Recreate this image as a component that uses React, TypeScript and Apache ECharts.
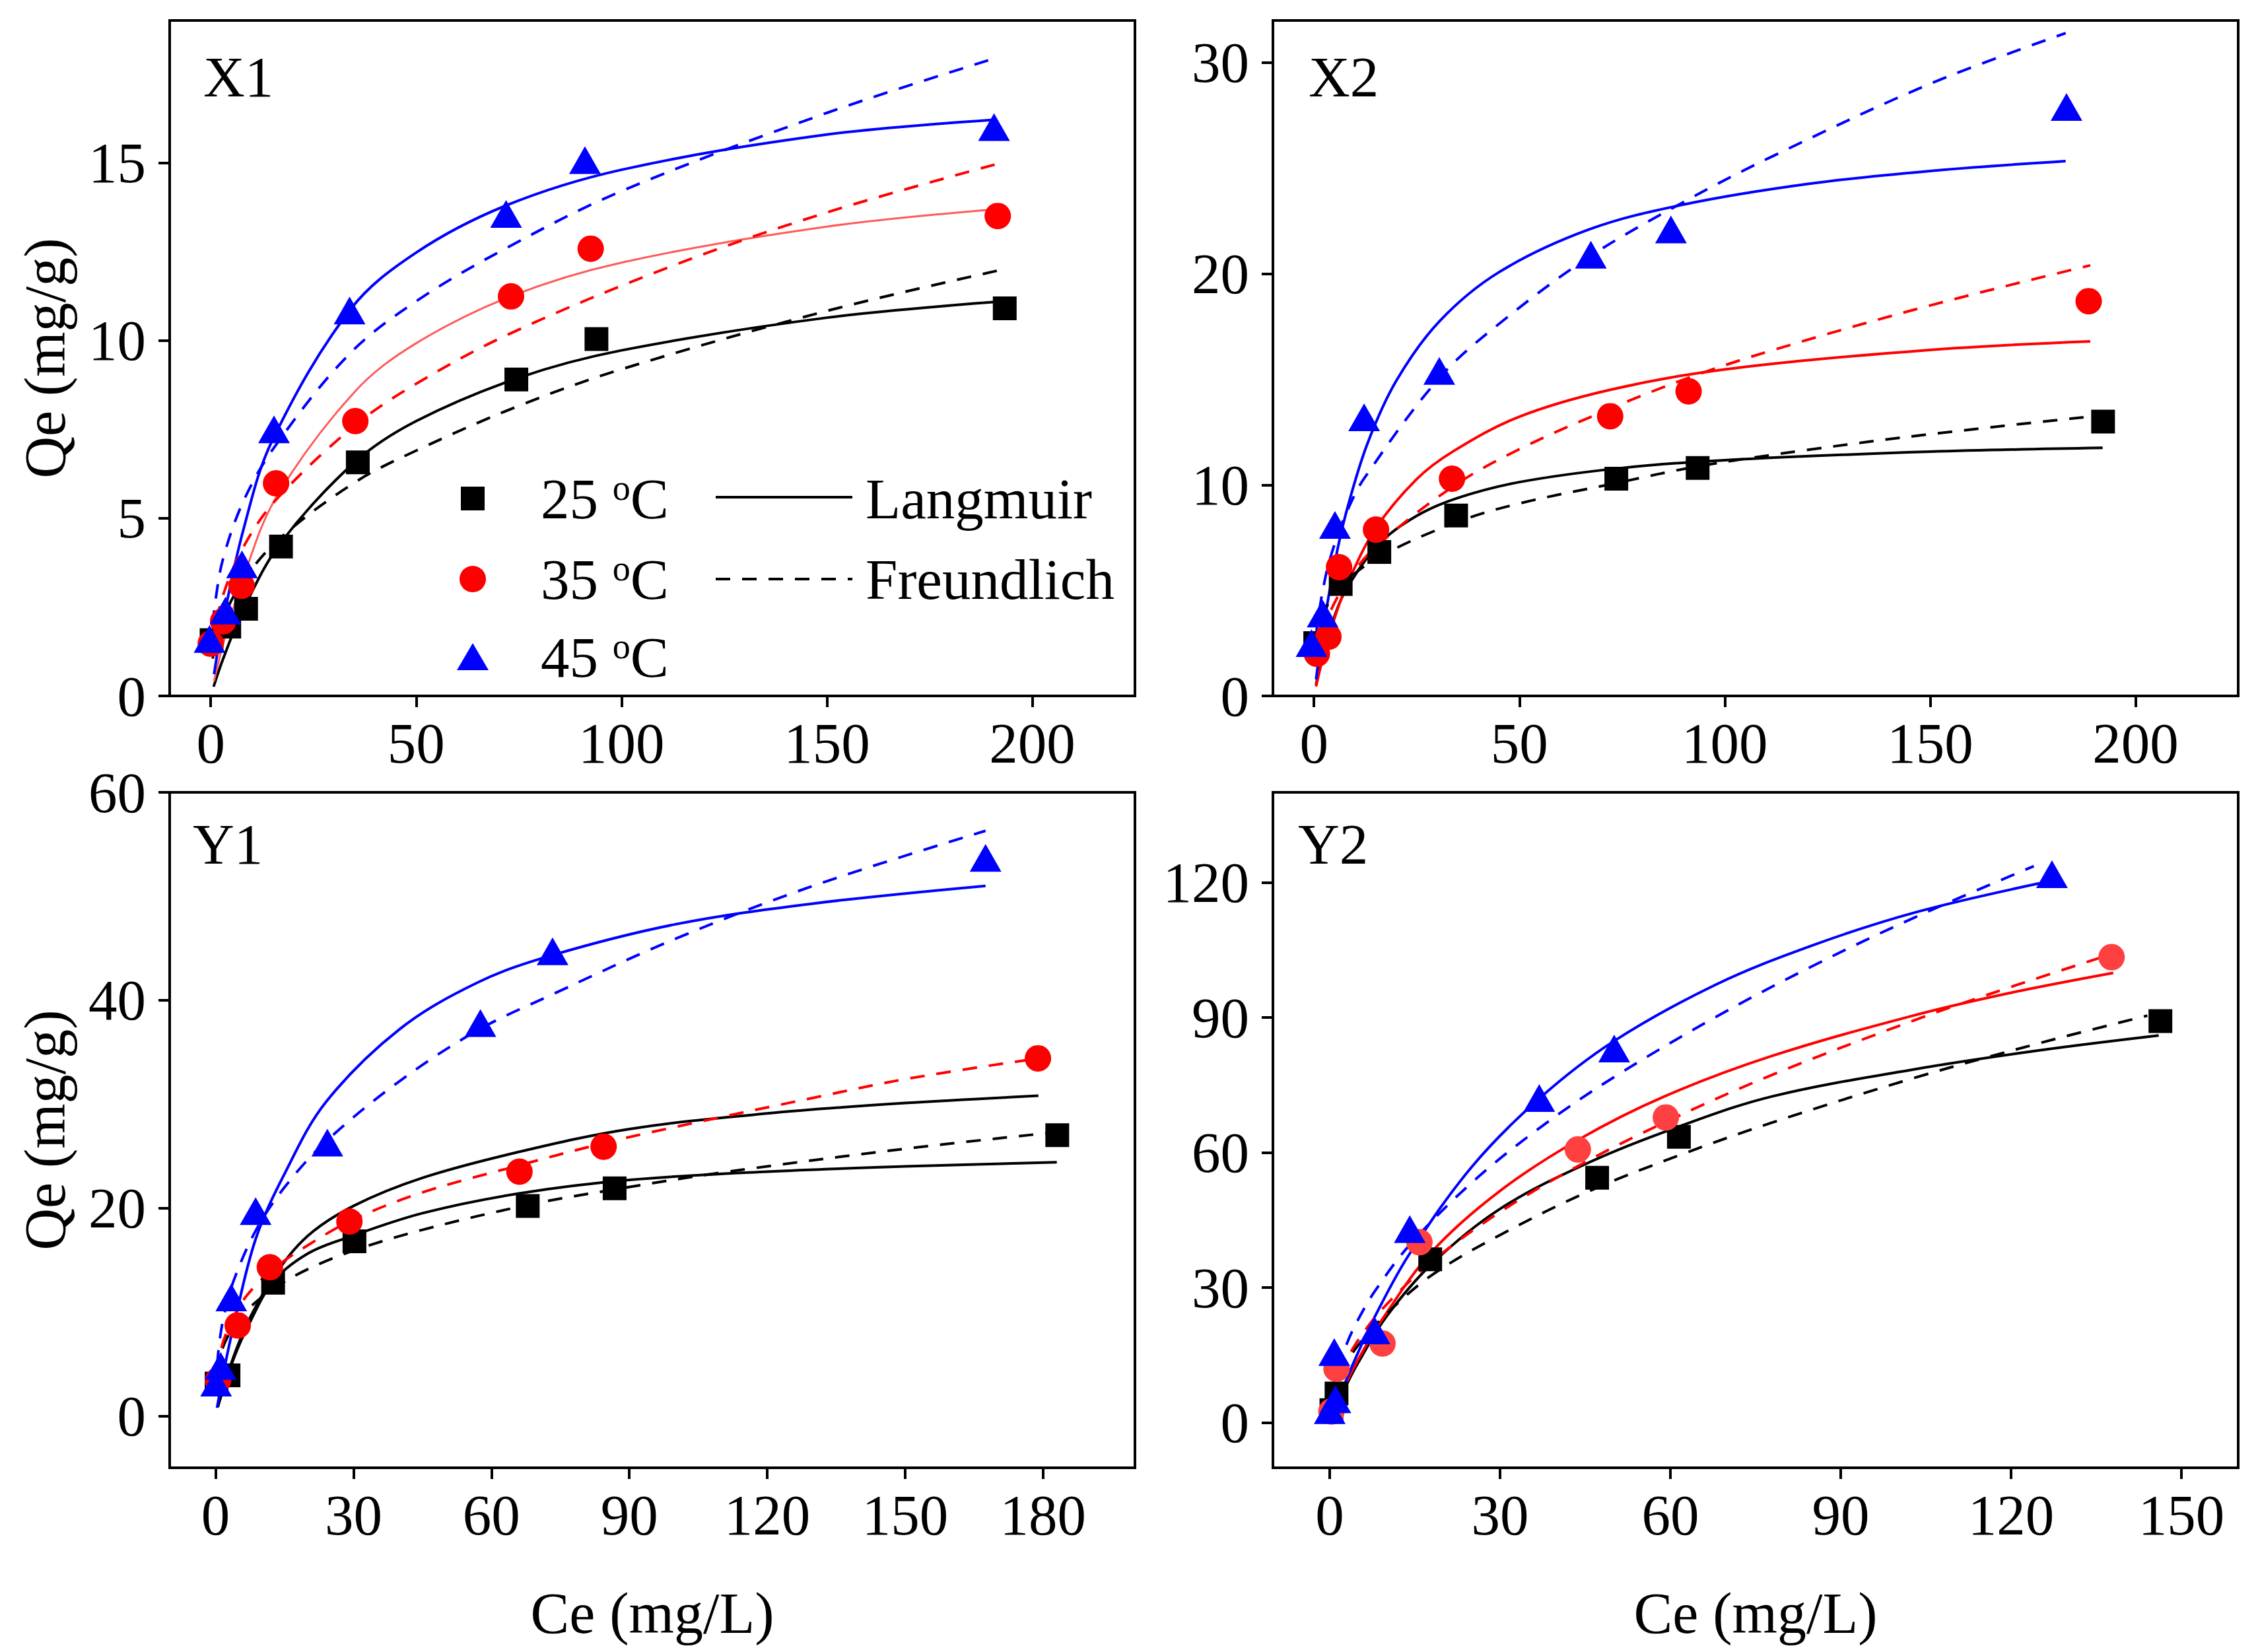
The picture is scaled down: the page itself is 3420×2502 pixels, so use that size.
import React, { useEffect, useRef } from "react";
import * as echarts from "echarts";

// ---------- tick labels ----------
const X1_XTICKS = [0, 50, 100, 150, 200];
const X1_YTICKS = [0, 5, 10, 15];
const X2_XTICKS = [0, 50, 100, 150, 200];
const X2_YTICKS = [0, 10, 20, 30];
const Y1_XTICKS = [0, 30, 60, 90, 120, 150, 180];
const Y1_YTICKS = [0, 20, 40, 60];
const Y2_XTICKS = [0, 30, 60, 90, 120, 150];
const Y2_YTICKS = [0, 30, 60, 90, 120];

// ---------- X1 ----------
const X1_P25 = [[0.2, 1.57], [4.5, 1.95], [8.6, 2.45], [17.1, 4.2], [35.8, 6.57], [74.4, 8.9], [93.9, 10.04], [193.3, 10.9]];
const X1_P35 = [[0, 1.47], [3, 2.1], [7.5, 3.1], [15.9, 5.98], [35.2, 7.73], [73.1, 11.24], [92.5, 12.58], [191.6, 13.5]];
const X1_P45 = [[-0.3, 1.6], [3.6, 2.4], [7.6, 3.7], [15.4, 7.5], [33.8, 10.84], [71.9, 13.56], [91.1, 15.07], [190.7, 16.0]];
const X1_L25 = [[0.7, 0.26], [3, 1.04], [8, 2.45], [17, 4.3], [35, 6.57], [50, 7.73], [75, 8.95], [100, 9.72], [150, 10.64], [193, 11.1]];
const X1_L35 = [[0.8, 0.41], [3, 1.45], [8, 3.35], [16, 5.6], [35, 8.55], [50, 9.92], [73, 11.24], [100, 12.19], [150, 13.2], [191, 13.69]];
const X1_L45 = [[0.8, 0.61], [3, 2.1], [8, 4.7], [15, 7.19], [34, 10.87], [50, 12.47], [72, 13.8], [100, 14.8], [150, 15.79], [190, 16.2]];
const X1_F25 = [[0.5, 1.05], [1, 1.39], [3, 2.18], [8, 3.26], [17, 4.45], [35, 6.0], [50, 6.9], [75, 8.16], [100, 9.19], [150, 10.83], [193, 12.0]];
const X1_F35 = [[0.5, 1.39], [1, 1.83], [3, 2.84], [8, 4.2], [16, 5.53], [35, 7.6], [50, 8.78], [73, 10.2], [112, 12.08], [150, 13.6], [191, 14.95]];
const X1_F45 = [[0.5, 2.0], [1, 2.57], [3, 3.86], [8, 5.49], [15.5, 7.0], [33.6, 9.6], [50, 11.1], [72, 12.6], [100, 14.2], [150, 16.4], [191, 17.94]];

// ---------- X2 ----------
const X2_P25 = [[0.3, 2.5], [6.5, 5.3], [15.9, 6.82], [34.6, 8.55], [73.6, 10.29], [93.4, 10.8], [192.1, 13.0]];
const X2_P35 = [[0.7, 2.0], [3.5, 2.8], [6.1, 6.1], [15.1, 7.88], [33.6, 10.29], [72.1, 13.25], [91.2, 14.43], [188.6, 18.7]];
const X2_P45 = [[-0.6, 2.5], [2.1, 3.9], [5.1, 8.1], [12.2, 13.2], [30.5, 15.4], [67.4, 20.9], [86.9, 22.1], [183.2, 27.9]];
const X2_L25 = [[0.5, 0.52], [2, 1.85], [5, 3.78], [8, 5.11], [16, 7.23], [25, 8.53], [35, 9.38], [50, 10.13], [74, 10.78], [100, 11.17], [150, 11.57], [192, 11.75]];
const X2_L35 = [[0.5, 0.45], [2, 1.67], [5, 3.68], [8, 5.26], [15, 7.93], [25, 10.27], [34, 11.6], [50, 13.23], [72, 14.5], [100, 15.47], [150, 16.39], [189, 16.8]];
const X2_L45 = [[0.5, 0.78], [2, 2.89], [5, 6.25], [8, 8.81], [13, 11.95], [20, 14.92], [30.5, 17.74], [45, 20.07], [67, 22.1], [90, 23.28], [120, 24.25], [150, 24.87], [183, 25.34]];
const X2_F25 = [[0.5, 2.5], [1, 3.05], [3, 4.2], [7, 5.3], [16, 6.6], [35, 8.25], [50, 9.12], [74, 10.1], [93, 10.86], [120, 11.65], [150, 12.4], [192, 13.3]];
const X2_F35 = [[0.5, 1.69], [1, 2.26], [3, 3.58], [8, 5.41], [15, 7.05], [34, 9.94], [50, 11.69], [72, 13.6], [91, 15.06], [112, 16.4], [150, 18.5], [189, 20.4]];
const X2_F45 = [[0.5, 2.79], [1, 3.71], [3, 5.82], [5, 7.18], [8, 8.73], [12.2, 10.3], [30.5, 15.06], [45, 17.62], [67, 20.8], [90, 23.4], [112, 25.6], [150, 29.0], [183, 31.4]];

// ---------- Y1 ----------
const Y1_P25 = [[0.2, 3.1], [2.8, 3.9], [12.5, 12.8], [30.2, 16.8], [67.9, 20.2], [86.8, 21.9], [183.1, 27.0]];
const Y1_P35 = [[0.5, 3.4], [4.8, 8.7], [11.8, 14.3], [29.1, 18.7], [66.1, 23.5], [84.4, 25.9], [178.9, 34.4]];
const Y1_P45 = [[0.1, 3.2], [1.1, 4.8], [3.4, 11.4], [8.7, 19.7], [24.3, 26.3], [57.6, 37.8], [73.3, 44.7], [167.5, 53.7]];
const Y1_L25 = [[0.5, 1.0], [1.5, 2.3], [4, 5.6], [7, 8.6], [12.5, 12.9], [20, 15.6], [29, 17.2], [45, 19.5], [66, 21.4], [90, 22.7], [120, 23.5], [150, 24.0], [183, 24.4]];
const Y1_L35 = [[0.5, 0.85], [1.5, 2.44], [4, 5.81], [7, 9.02], [12.5, 13.3], [20, 17.3], [30, 20.2], [45, 22.9], [66, 25.4], [90, 27.6], [120, 29.1], [150, 30.1], [179, 30.8]];
const Y1_L45 = [[0.3, 0.77], [2, 4.79], [4, 8.84], [8.7, 17.0], [15, 23.3], [24, 30.2], [40, 37.2], [57, 41.7], [73, 44.3], [100, 47.3], [130, 49.3], [167.5, 51.0]];
const Y1_F25 = [[0.3, 3.99], [1, 5.72], [2, 7.04], [4, 8.67], [7, 10.26], [12.5, 12.2], [20, 14.1], [30, 15.9], [45, 17.9], [68, 20.3], [87, 21.8], [110, 23.4], [150, 25.7], [183, 27.3]];
const Y1_F35 = [[0.3, 4.04], [1, 6.05], [2, 7.6], [4, 9.6], [7, 11.7], [12.5, 14.1], [20, 16.4], [30, 18.9], [45, 21.5], [66, 24.1], [85, 26.3], [100, 27.8], [130, 30.6], [150, 32.4], [179, 34.4]];
const Y1_F45 = [[0.05, 2.4], [0.3, 4.78], [1, 7.64], [2, 10.0], [4, 13.1], [8.7, 17.8], [15, 22.0], [24, 26.4], [40, 32.2], [57, 37.1], [73, 40.5], [100, 45.9], [130, 51.0], [167.5, 56.3]];

// ---------- Y2 ----------
const Y2_P25 = [[0.3, 2.8], [1.2, 6.5], [17.7, 36.3], [47.1, 54.4], [61.5, 63.5], [146.3, 89.2]];
const Y2_P35 = [[0.3, 2.5], [1.2, 12.0], [9.3, 17.6], [15.8, 40.1], [43.7, 60.7], [59.2, 67.8], [137.7, 103.4]];
const Y2_P45 = [[0, 2.8], [1, 5.2], [0.8, 15.7], [7.9, 20.5], [14.1, 43.0], [36.9, 72.1], [50.1, 83.1], [127.2, 121.8]];
const Y2_L25 = [[0.3, 0.9], [1, 3.0], [3, 8.5], [5, 13.3], [10, 23.6], [18, 35.3], [30, 47.5], [46, 58], [62, 66], [78, 72.5], [103, 78.5], [125, 82.7], [146, 86.0]];
const Y2_L35 = [[0.3, 1.0], [1, 3.2], [3, 9.0], [5, 14.0], [9, 22.5], [18, 38], [30, 51.5], [44, 63], [59, 72.5], [78, 81.5], [103, 90.5], [120, 95.5], [138, 99.9]];
const Y2_L45 = [[0.3, 1.03], [1, 3.38], [3, 9.75], [5, 15.6], [8, 23.7], [14, 37.4], [25, 56.8], [37, 72.1], [50, 84.7], [68, 97.3], [85, 106], [103, 113.3], [125, 119.8]];
const Y2_F25 = [[0.4, 4.9], [1, 7.76], [3, 13.3], [5, 17.2], [10, 24.2], [18, 32.8], [30, 41.7], [46, 51.6], [62, 59.6], [78, 66.7], [103, 76.6], [125, 84.3], [144, 90.4]];
const Y2_F35 = [[0.4, 4.9], [1, 7.88], [3, 14.0], [5, 18.3], [9, 24.9], [18, 35.8], [30, 46.8], [44, 57.2], [59, 66.7], [78, 77.3], [103, 89.4], [120, 96.8], [138, 104.2]];
const Y2_F45 = [[0.4, 6.06], [1, 9.84], [3, 17.5], [5, 22.9], [8, 29.3], [14.1, 39.5], [25, 53.3], [37, 65.5], [50, 76.7], [68, 90.1], [85, 101.4], [103, 112.2], [124, 123.6]];

// ---------- text ----------
const TEMPS = ["25", "35", "45"];
const MODELS = ["Langmuir", "Freundlich"];
const X_TITLE = "Ce (mg/L)";
const Y_TITLE = "Qe (mg/g)";

const FONT = '"Liberation Serif", "Times New Roman", serif';
const BLACK = "#000000";
const RED = "#ff0000";
const BLUE = "#0000ff";
const DASH = [22, 18];
const LW = 4;
const TICK_FONT = 87;
const TITLE_FONT = 88;

const GW = 1462;
const GH = 1023;

const PANELS = [
  {
    name: "X1", left: 257, top: 31, xMin: -10, xMax: 225, yMin: 0, yMax: 19,
    xTicks: X1_XTICKS, yTicks: X1_YTICKS,
    pts: [X1_P25, X1_P35, X1_P45], lang: [X1_L25, X1_L35, X1_L45], freu: [X1_F25, X1_F35, X1_F45],
    ptColors: [BLACK, RED, BLUE], langColors: [BLACK, "#ff5a5a", BLUE], langWidths: [LW, 3, LW],
    xTitle: false, yTitle: true, labelX: 308, labelY: 116,
  },
  {
    name: "X2", left: 1928, top: 31, xMin: -10, xMax: 225, yMin: 0, yMax: 32,
    xTicks: X2_XTICKS, yTicks: X2_YTICKS,
    pts: [X2_P25, X2_P35, X2_P45], lang: [X2_L25, X2_L35, X2_L45], freu: [X2_F25, X2_F35, X2_F45],
    ptColors: [BLACK, RED, BLUE], langColors: [BLACK, RED, BLUE], langWidths: [LW, LW, LW],
    xTitle: false, yTitle: false, labelX: 1982, labelY: 116,
  },
  {
    name: "Y1", left: 257, top: 1200, xMin: -10, xMax: 200, yMin: -5, yMax: 60,
    xTicks: Y1_XTICKS, yTicks: Y1_YTICKS,
    pts: [Y1_P25, Y1_P35, Y1_P45], lang: [Y1_L25, Y1_L35, Y1_L45], freu: [Y1_F25, Y1_F35, Y1_F45],
    ptColors: [BLACK, RED, BLUE], langColors: [BLACK, BLACK, BLUE], langWidths: [LW, LW, LW],
    xTitle: true, yTitle: true, labelX: 292, labelY: 1278,
  },
  {
    name: "Y2", left: 1928, top: 1200, xMin: -10, xMax: 160, yMin: -10, yMax: 140,
    xTicks: Y2_XTICKS, yTicks: Y2_YTICKS,
    pts: [Y2_P25, Y2_P35, Y2_P45], lang: [Y2_L25, Y2_L35, Y2_L45], freu: [Y2_F25, Y2_F35, Y2_F45],
    ptColors: [BLACK, "#ff4040", BLUE], langColors: [BLACK, RED, BLUE], langWidths: [LW, LW, LW],
    xTitle: true, yTitle: false, labelX: 1966, labelY: 1278,
  },
];

const SYMBOLS: any[] = [
  { symbol: "rect", size: 36 },
  { symbol: "circle", size: 40 },
  { symbol: "triangle", size: [48, 42] },
];

function buildOption() {
  const grid: any[] = [];
  const xAxis: any[] = [];
  const yAxis: any[] = [];
  const series: any[] = [];
  const graphic: any[] = [];

  PANELS.forEach((p, i) => {
    grid.push({
      left: p.left, top: p.top, width: GW, height: GH,
      show: true, borderColor: BLACK, borderWidth: 4, backgroundColor: "#fff",
      containLabel: false,
    });
    xAxis.push({
      gridIndex: i, type: "value", min: p.xMin, max: p.xMax,
      axisLine: { show: true, onZero: false, lineStyle: { color: BLACK, width: 4 } },
      axisTick: { show: true, inside: false, length: 17, customValues: p.xTicks, lineStyle: { color: BLACK, width: 4 } },
      axisLabel: { show: true, customValues: p.xTicks, color: BLACK, fontFamily: FONT, fontSize: TICK_FONT, margin: 28 },
      splitLine: { show: false },
      name: p.xTitle ? X_TITLE : "",
      nameLocation: "middle", nameGap: 176,
      nameTextStyle: { color: BLACK, fontFamily: FONT, fontSize: TITLE_FONT },
    });
    yAxis.push({
      gridIndex: i, type: "value", min: p.yMin, max: p.yMax,
      axisLine: { show: true, onZero: false, lineStyle: { color: BLACK, width: 4 } },
      axisTick: { show: true, inside: false, length: 17, customValues: p.yTicks, lineStyle: { color: BLACK, width: 4 } },
      axisLabel: { show: true, customValues: p.yTicks, color: BLACK, fontFamily: FONT, fontSize: TICK_FONT, margin: 36 },
      splitLine: { show: false },
      name: p.yTitle ? Y_TITLE : "",
      nameLocation: "middle", nameGap: 145, nameRotate: 90,
      nameTextStyle: { color: BLACK, fontFamily: FONT, fontSize: TITLE_FONT },
    });

    // fitted curves
    p.lang.forEach((d, k) => {
      series.push({
        type: "line", xAxisIndex: i, yAxisIndex: i, data: d,
        showSymbol: false, symbol: "none", smooth: 0.35,
        lineStyle: { color: p.langColors[k], width: p.langWidths[k], type: "solid" },
        silent: true, z: 2,
      });
    });
    p.freu.forEach((d, k) => {
      series.push({
        type: "line", xAxisIndex: i, yAxisIndex: i, data: d,
        showSymbol: false, symbol: "none", smooth: 0.35,
        lineStyle: { color: p.ptColors[k] === "#ff4040" ? RED : p.ptColors[k], width: LW, type: DASH },
        silent: true, z: 2,
      });
    });
    // experimental points
    p.pts.forEach((d, k) => {
      series.push({
        type: "scatter", xAxisIndex: i, yAxisIndex: i, data: d,
        symbol: SYMBOLS[k].symbol, symbolSize: SYMBOLS[k].size,
        itemStyle: { color: p.ptColors[k], opacity: 1 },
        silent: true, z: 3,
      });
    });

    graphic.push({
      type: "text", x: p.labelX, y: p.labelY,
      style: { text: p.name, fill: BLACK, fontFamily: FONT, fontSize: 87, align: "left", verticalAlign: "middle" },
      z: 10,
    });
  });

  // legend in panel X1
  const legRows = [755, 877, 995];
  const legFill = [BLACK, RED, BLUE];
  graphic.push({ type: "rect", shape: { x: 698, y: legRows[0] - 18, width: 36, height: 36 }, style: { fill: legFill[0] }, z: 10 });
  graphic.push({ type: "circle", shape: { cx: 716, cy: legRows[1], r: 20 }, style: { fill: legFill[1] }, z: 10 });
  graphic.push({
    type: "polygon",
    shape: { points: [[716, legRows[2] - 21], [692, legRows[2] + 20], [740, legRows[2] + 20]] },
    style: { fill: legFill[2] }, z: 10,
  });
  TEMPS.forEach((t, k) => {
    graphic.push({
      type: "text", x: 819, y: legRows[k],
      style: {
        text: "{n|" + t + " }{s|o}{n|C}",
        fill: BLACK, align: "left", verticalAlign: "middle",
        rich: {
          n: { fontFamily: FONT, fontSize: 87, lineHeight: 87, fill: BLACK },
          s: { fontFamily: FONT, fontSize: 54, lineHeight: 16, verticalAlign: "top", fill: BLACK },
        },
      },
      z: 10,
    });
  });
  graphic.push({ type: "line", shape: { x1: 1084, y1: legRows[0] - 2, x2: 1291, y2: legRows[0] - 2 }, style: { stroke: BLACK, lineWidth: LW }, z: 10 });
  graphic.push({ type: "line", shape: { x1: 1084, y1: legRows[1], x2: 1291, y2: legRows[1] }, style: { stroke: BLACK, lineWidth: LW, lineDash: DASH }, z: 10 });
  MODELS.forEach((m, k) => {
    graphic.push({
      type: "text", x: 1311, y: legRows[k],
      style: { text: m, fill: BLACK, fontFamily: FONT, fontSize: 87, align: "left", verticalAlign: "middle" },
      z: 10,
    });
  });

  return {
    animation: false,
    backgroundColor: "#ffffff",
    textStyle: { fontFamily: FONT },
    grid, xAxis, yAxis, series, graphic,
  };
}

export default function App() {
  const ref = useRef<HTMLDivElement>(null);
  useEffect(() => {
    document.body.style.margin = "0";
    if (!ref.current) return;
    const chart = echarts.init(ref.current, undefined, { renderer: "svg", width: 3420, height: 2502 });
    chart.setOption(buildOption() as any);
    return () => chart.dispose();
  }, []);
  return (
    <div
      ref={ref}
      style={{ position: "fixed", left: 0, top: 0, width: "3420px", height: "2502px", background: "#fff" }}
    />
  );
}
